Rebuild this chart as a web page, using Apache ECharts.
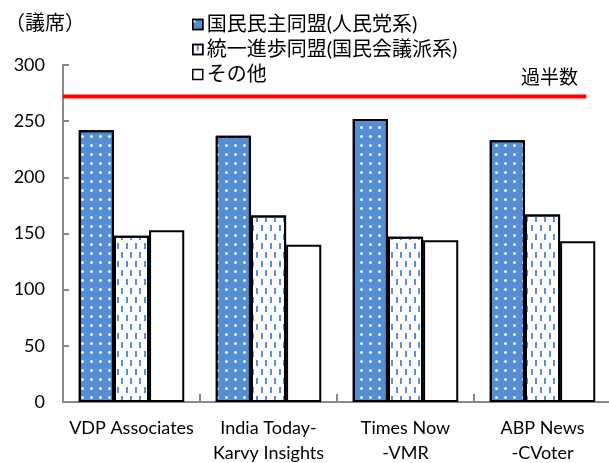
<!DOCTYPE html>
<html>
<head>
<meta charset="utf-8">
<script src="https://cdn.jsdelivr.net/npm/echarts@6/dist/echarts.min.js"></script>
<style>html,body{margin:0;padding:0;background:#fff}#c{width:609px;height:463px}</style>
</head>
<body>
<div id="c"></div>
<script>
const categories = ['VDP Associates', 'India Today-\nKarvy Insights', 'Times Now\n-VMR', 'ABP News\n-CVoter'];
const seriesNames = ['国民民主同盟(人民党系)', '統一進歩同盟(国民会議派系)', 'その他'];
const nda = [242, 237, 252, 233];
const upa = [148, 166, 147, 167];
const others = [153, 140, 144, 143];
const majority = 272;
const majorityLabel = '過半数';
const majorityStart = 0;
const majorityEnd = 3.82;
const yTicks = [0, 300, 50];
const unitLabel = '（議席）';

const latin = 'Lato, "Noto Sans CJK JP", sans-serif';
const cjk = '"Noto Sans CJK JP", sans-serif';
const axisGray = '#898989';

const chart = echarts.init(document.getElementById('c'));
chart.setOption({
  animation: false,
  backgroundColor: '#fff',
  title: [{
    text: unitLabel, left: 0, top: 7,
    textStyle: { fontFamily: cjk, fontSize: 20, fontWeight: 'normal', color: '#000' }
  }, {
    text: majorityLabel, left: 516, top: 62,
    textStyle: { fontFamily: cjk, fontSize: 19, fontWeight: 'normal', color: '#000' }
  }],
  legend: {
    data: seriesNames,
    orient: 'vertical',
    left: 187, top: 9,
    icon: 'rect',
    itemWidth: 10, itemHeight: 10, itemGap: 4,
    itemStyle: { borderWidth: 1.5, borderColor: '#000' },
    textStyle: { fontFamily: latin, fontSize: 20, lineHeight: 21, color: '#000', padding: [0,0,0,-1] }
  },
  grid: { left: 63, right: -2, top: 65, bottom: 61, containLabel: false, outerBoundsMode: 'none' },
  xAxis: [{
    type: 'category',
    data: categories,
    axisLine: { lineStyle: { color: axisGray, width: 2 } },
    axisTick: { show: true, inside: true, length: 8, lineStyle: { color: axisGray, width: 2 } },
    axisLabel: { interval: 0, fontFamily: latin, fontSize: 18, lineHeight: 25, color: '#000', margin: 14 }
  }, {
    type: 'value', min: 0, max: categories.length, show: false
  }],
  yAxis: {
    type: 'value', min: yTicks[0], max: yTicks[1], interval: yTicks[2],
    axisLine: { show: true, lineStyle: { color: axisGray, width: 2 } },
    axisTick: { show: true, inside: true, length: 6, lineStyle: { color: axisGray, width: 2 } },
    splitLine: { show: false },
    axisLabel: { fontFamily: latin, fontSize: 18, color: '#000', margin: 18 }
  },
  series: [{
    name: seriesNames[0], type: 'bar', data: nda,
    barGap: '0%', barCategoryGap: '23%',
    itemStyle: {
      color: '#558ED5', borderColor: '#000', borderWidth: 2,
      decal: { symbol: 'circle', symbolSize: 1, color: 'rgba(255,255,255,0.9)', dashArrayX: [2.2, 5.5], dashArrayY: [2.2, 5.1] }
    }
  }, {
    name: seriesNames[1], type: 'bar', data: upa,
    itemStyle: {
      color: '#fff', borderColor: '#000', borderWidth: 2,
      decal: { symbol: 'rect', symbolSize: 1, symbolKeepAspect: false, color: '#5B8FD8',
        dashArrayX: [[1.8, 6.2], [0, 4, 1.8, 2.2]], dashArrayY: [5.5, 3] }
    }
  }, {
    name: seriesNames[2], type: 'bar', data: others,
    itemStyle: { color: '#fff', borderColor: '#000', borderWidth: 2 }
  }, {
    name: majorityLabel, type: 'line', xAxisIndex: 1, symbol: 'none',
    lineStyle: { color: '#ff0000', width: 4 },
    data: [[majorityStart, majority], [majorityEnd, majority]]
  }]
});
</script>
</body>
</html>
